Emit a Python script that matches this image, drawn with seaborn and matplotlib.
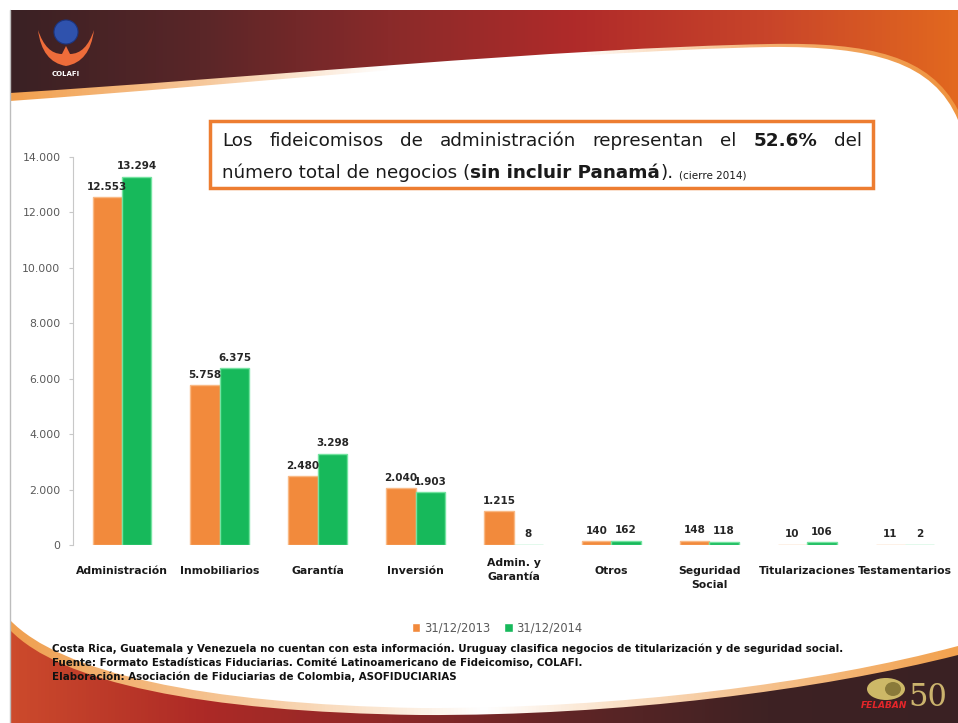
import matplotlib.pyplot as plt
import numpy as np
import pandas as pd
import seaborn as sns
from matplotlib.colors import LinearSegmentedColormap
from matplotlib.patches import Circle, Ellipse, PathPatch, Rectangle
from matplotlib.path import Path

categorias = ['Administración', 'Inmobiliarios', 'Garantía', 'Inversión', 'Admin. y\nGarantía',
              'Otros', 'Seguridad\nSocial', 'Titularizaciones', 'Testamentarios']
fechas = ['31/12/2013', '31/12/2014']
valores_2013 = [12553, 5758, 2480, 2040, 1215, 140, 148, 10, 11]
valores_2014 = [13294, 6375, 3298, 1903, 8, 162, 118, 106, 2]
ticks_y = [0, 2000, 4000, 6000, 8000, 10000, 12000, 14000]

colores = ['#f28a3c', '#17b95b']
bordes = ['#f9b985', '#74e3a0']

df = pd.DataFrame({
    'categoria': categorias * 2,
    'fecha': [fechas[0]] * len(categorias) + [fechas[1]] * len(categorias),
    'valor': valores_2013 + valores_2014,
})


def miles(v):
    return f'{v:,.0f}'.replace(',', '.')


sns.set_theme(style='white')
plt.rcParams['font.family'] = ['DejaVu Sans']

fig = plt.figure(figsize=(9.58, 7.23), dpi=100)
fig.patch.set_facecolor('white')

# fondo de la diapositiva en coordenadas de pixel
bg = fig.add_axes([0, 0, 1, 1], zorder=0)
bg.axis('off')


def banda(path, cols, z):
    cmap = LinearSegmentedColormap.from_list('g', cols)
    im = bg.imshow(np.linspace(0, 1, 256)[None, :], cmap=cmap, extent=[10, 958, 723, 0],
                   aspect='auto', zorder=z, interpolation='bicubic')
    clip = PathPatch(path, facecolor='none', edgecolor='none', transform=bg.transData)
    bg.add_patch(clip)
    im.set_clip_path(clip)


C4 = Path.CURVE4
cab_franja = Path([(10, 10), (958, 10), (958, 120), (934, 62), (872, 46), (770, 47),
                   (560, 51), (250, 84), (10, 101), (10, 10)],
                  [Path.MOVETO, Path.LINETO, Path.LINETO, C4, C4, C4, C4, C4, C4, Path.CLOSEPOLY])
cab = Path([(10, 10), (958, 10), (958, 110), (930, 56), (870, 42), (770, 44),
            (560, 48), (250, 78), (10, 93), (10, 10)],
           [Path.MOVETO, Path.LINETO, Path.LINETO, C4, C4, C4, C4, C4, C4, Path.CLOSEPOLY])
banda(cab_franja, ['#f2a04e', '#f6c79a', '#ffffff', '#ffffff', '#f4b070', '#ef9440'], 1)
banda(cab, ['#3a2124', '#5a2628', '#8a2a2a', '#b02b29', '#c8442a', '#e2681f'], 2)

pie_franja = Path([(10, 620), (60, 672), (200, 704), (420, 708), (620, 709), (820, 683),
                   (958, 646), (958, 723), (10, 723), (10, 620)],
                  [Path.MOVETO, C4, C4, C4, C4, C4, C4, Path.LINETO, Path.LINETO, Path.CLOSEPOLY])
pie = Path([(10, 630), (60, 682), (200, 712), (420, 715), (620, 716), (820, 690),
            (958, 655), (958, 723), (10, 723), (10, 630)],
           [Path.MOVETO, C4, C4, C4, C4, C4, C4, Path.LINETO, Path.LINETO, Path.CLOSEPOLY])
banda(pie_franja, ['#f0a050', '#f6c99c', '#ffffff', '#f6c99c', '#f2a24f'], 1)
banda(pie, ['#cc4a2c', '#ad2a26', '#8e2828', '#5e2526', '#3e2223', '#3a2124'], 2)

bg.plot([10, 10], [10, 723], color='#bdbdbd', lw=1, zorder=3)

# logo COLAFI
llama = Path([(38, 30), (42, 62), (66, 66), (90, 62), (94, 30), (86, 54), (70, 54),
              (66, 46), (62, 54), (46, 54), (38, 30)],
             [Path.MOVETO, Path.CURVE3, Path.CURVE3, Path.CURVE3, Path.CURVE3, Path.CURVE3,
              Path.CURVE3, Path.LINETO, Path.LINETO, Path.CURVE3, Path.CURVE3])
bg.add_patch(PathPatch(llama, facecolor='#ee6c3a', edgecolor='none', zorder=4))
bg.add_patch(Circle((66, 32), 12, facecolor='#2f52ad', edgecolor='#1c3580', lw=0.8, zorder=5))
bg.text(66, 74, 'COLAFI', color='white', fontsize=5, fontweight='bold', ha='center',
        va='center', zorder=5)

# logo FELABAN
bg.add_patch(Ellipse((886, 689), 38, 22, facecolor='#cdb867', edgecolor='none', zorder=4))
bg.add_patch(Ellipse((893, 689), 16, 14, facecolor='#8a7a3a', edgecolor='none', zorder=4))
bg.text(884, 706, 'FELABAN', color='#e4262a', fontsize=6.5, fontweight='bold',
        fontstyle='italic', ha='center', va='center', zorder=5)
bg.text(928, 698, '50', color='#cbb36d', fontsize=22, family='DejaVu Serif',
        ha='center', va='center', zorder=5)

# recuadro con el comentario
bg.add_patch(Rectangle((210, 121), 663, 67, facecolor='white', edgecolor='#ed7d31',
                       lw=2.5, zorder=4))

fig.canvas.draw()
rend = fig.canvas.get_renderer()

palabras = [('Los', 'normal'), ('fideicomisos', 'normal'), ('de', 'normal'),
            ('administración', 'normal'), ('representan', 'normal'), ('el', 'normal'),
            ('52.6%', 'bold'), ('del', 'normal')]
textos = [bg.text(0, 146, w, fontsize=13.2, fontweight=fw, color='#1a1a1a', zorder=5)
          for w, fw in palabras]
anchos = [t.get_window_extent(rend).width for t in textos]
hueco = (862 - 222 - sum(anchos)) / (len(textos) - 1)
x = 222
for t, a in zip(textos, anchos):
    t.set_x(x)
    x += a + hueco

trozos = [('número total de negocios (', 'normal', 13.2), ('sin incluir Panamá', 'bold', 13.2),
          (').', 'normal', 13.2), ('(cierre 2014)', 'normal', 7.5)]
x = 222
for txt, fw, fs in trozos:
    if fs < 10:
        x += 6
    t = bg.text(x, 178, txt, fontsize=fs, fontweight=fw, color='#1a1a1a', zorder=5)
    x += t.get_window_extent(rend).width

# notas al pie
notas = [
    'Costa Rica, Guatemala y Venezuela no cuentan con esta información. Uruguay clasifica '
    'negocios de titularización y de seguridad social.',
    'Fuente: Formato Estadísticas Fiduciarias. Comité Latinoamericano de Fideicomiso, COLAFI.',
    'Elaboración: Asociación de Fiduciarias de Colombia, ASOFIDUCIARIAS',
]
for i, nota in enumerate(notas):
    bg.text(52, 649 + 14 * i, nota, fontsize=7.4, fontweight='bold', color='#111111',
            va='center', zorder=5)

bg.set_xlim(0, 958)
bg.set_ylim(723, 0)

# grafico de barras
ax = fig.add_axes([73 / 958, 1 - 545 / 723, (954 - 73) / 958, (545 - 157) / 723], zorder=2)
ax.patch.set_alpha(0)
sns.barplot(data=df, x='categoria', y='valor', hue='fecha', palette=colores, width=0.6,
            saturation=1, ax=ax)

for cont, borde, vals in zip(ax.containers, bordes, [valores_2013, valores_2014]):
    for p in cont:
        p.set_edgecolor(borde)
        p.set_linewidth(1)
    ax.bar_label(cont, labels=[miles(v) for v in vals], padding=4, fontsize=7.5,
                 fontweight='bold', color='#262626')

ax.set_ylim(0, 14000)
ax.set_yticks(ticks_y)
ax.set_yticklabels([miles(v) for v in ticks_y])
ax.set_xticks(range(len(categorias)))
ax.set_xticklabels(categorias, fontweight='bold', fontsize=7.8, color='#1a1a1a', linespacing=1.5)
ax.set_xlabel('')
ax.set_ylabel('')
sns.despine(ax=ax, bottom=True)
ax.spines['left'].set_color('#c8c8c8')
ax.spines['left'].set_linewidth(0.8)
ax.tick_params(axis='y', left=True, length=3, width=0.8, color='#c8c8c8', labelsize=7.8,
               labelcolor='#595959', pad=6)
ax.tick_params(axis='x', bottom=False, pad=9)
for lbl in ax.get_xticklabels():
    if lbl.get_text().startswith('Admin.'):
        lbl.set_va('center')
        lbl.set_y(-0.012)

handles, labels = ax.get_legend_handles_labels()
ax.legend_.remove()
fig.legend(handles, labels, loc='center', bbox_to_anchor=(497 / 958, 1 - 628 / 723), ncol=2,
           frameon=False, fontsize=8.3, handlelength=0.75, handleheight=0.75, handletextpad=0.3,
           columnspacing=1.2, labelcolor='#595959')

fig.savefig('out.png', dpi=100, facecolor='white')
